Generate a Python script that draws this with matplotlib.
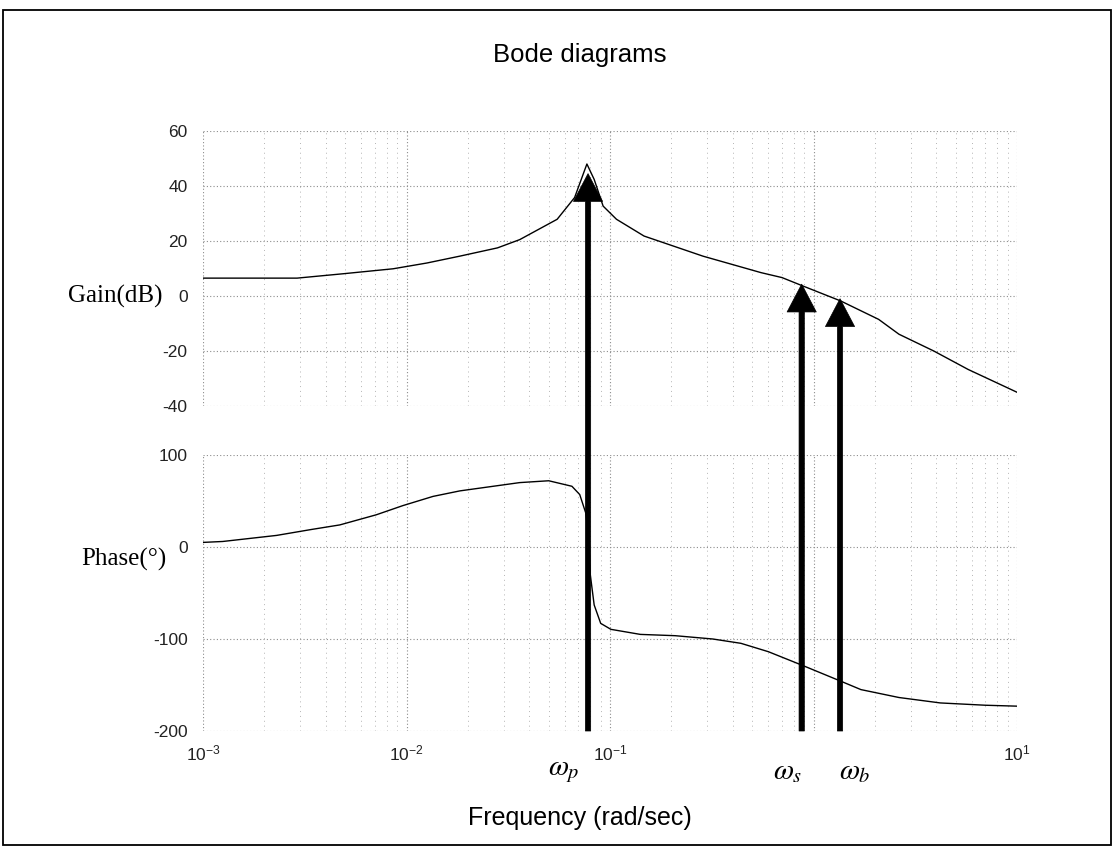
import numpy as np
import matplotlib
matplotlib.use('Agg')
import matplotlib.pyplot as plt
from matplotlib.patches import Rectangle
from matplotlib.ticker import FixedLocator, FixedFormatter, LogLocator, NullFormatter

plt.rcParams['font.family'] = ['Liberation Sans', 'DejaVu Sans']
plt.rcParams['axes.unicode_minus'] = False

# Gain curve (rad/sec, dB)
gain_freq = [0.001, 0.002, 0.0029, 0.0049, 0.0086, 0.0126, 0.0183, 0.028, 0.036, 0.055,
             0.067, 0.077, 0.0836, 0.0925, 0.1076, 0.147, 0.286, 0.552, 0.70,
             0.89, 1.36, 2.09, 2.63, 3.9, 5.75, 10.0]
gain_db = [6.5, 6.5, 6.5, 8.1, 9.9, 12.0, 14.5, 17.5, 20.5, 27.9,
           35.8, 48.0, 42.4, 32.7, 27.9, 21.8, 14.5, 8.5, 6.7,
           3.6, -1.8, -8.5, -13.9, -20.0, -26.7, -35.0]

# Phase curve (rad/sec, degrees)
phase_freq = [0.001, 0.00125, 0.0023, 0.0034, 0.0047, 0.0071, 0.0096, 0.0135, 0.0183,
              0.036, 0.05, 0.065, 0.071, 0.076, 0.079, 0.080, 0.0836, 0.090, 0.101,
              0.141, 0.209, 0.32, 0.44, 0.60, 0.89, 1.36, 1.71, 2.63, 4.2, 7.0, 10.0]
phase_deg = [5, 6, 12.6, 19, 24, 35, 45, 55, 61,
             70, 72, 66, 57, 37, 6.5, -30, -63, -83, -89.5,
             -95, -96.4, -100, -104.7, -113.8, -129, -145.8, -155, -163.6, -169.5, -172, -173]

# Marked frequencies: omega_p, omega_s, omega_b
mark_freq = [0.078, 0.875, 1.35]
mark_tip_db = [44.5, 4.3, -1.0]
mark_labels = [r'$\omega_p$', r'$\omega_s$', r'$\omega_b$']
mark_label_dx = [-24, -14, 15]   # label offset from arrow, pixels

x_ticks = [1e-3, 1e-2, 1e-1, 1e0, 1e1]
x_ticklabels = [r'$\mathregular{10^{-3}}$', r'$\mathregular{10^{-2}}$',
                r'$\mathregular{10^{-1}}$', '', r'$\mathregular{10^{1}}$']
gain_ticks = [60, 40, 20, 0, -20, -40]
phase_ticks = [100, 0, -100, -200]

W, H = 1114, 848
fig = plt.figure(figsize=(W / 100, H / 100), dpi=100)

# axes boxes in pixels: left, right, top, bottom
L, R = 203, 1017
ax_gain = fig.add_axes([L / W, 1 - 406 / H, (R - L) / W, (406 - 131) / H])
ax_phase = fig.add_axes([L / W, 1 - 731 / H, (R - L) / W, (731 - 455) / H])

major_kw = dict(color='#8c8c8c', linestyle=(0, (1, 2)), linewidth=0.8)
minor_kw = dict(color='#b4b4b4', linestyle=(0, (1, 4)), linewidth=0.7)

for ax, ticks in ((ax_gain, gain_ticks), (ax_phase, phase_ticks)):
    ax.set_xscale('log')
    ax.set_xlim(1e-3, 1e1)
    ax.set_ylim(min(ticks), max(ticks))
    ax.set_yticks(ticks)
    ax.xaxis.set_major_locator(FixedLocator(x_ticks))
    ax.xaxis.set_minor_locator(LogLocator(base=10, subs=np.arange(2, 10), numticks=20))
    ax.xaxis.set_minor_formatter(NullFormatter())
    ax.grid(True, which='major', axis='both', **major_kw)
    ax.grid(True, which='minor', axis='x', **minor_kw)
    for s in ax.spines.values():
        s.set_visible(False)
    ax.tick_params(which='both', length=0)
    ax.tick_params(axis='y', pad=11, labelsize=12.5, labelcolor='#222222')
    ax.set_facecolor('none')

ax_gain.xaxis.set_major_formatter(FixedFormatter([''] * len(x_ticks)))
ax_phase.xaxis.set_major_formatter(FixedFormatter(x_ticklabels))
ax_phase.tick_params(axis='x', pad=9, labelsize=12.5, labelcolor='#222222')

ax_gain.plot(gain_freq, gain_db, color='black', lw=1.0)
ax_phase.plot(phase_freq, phase_deg, color='black', lw=1.0)

# side labels
ax_gain.annotate('Gain(dB)', xy=(0, 0), xycoords=ax_gain.get_yaxis_transform(),
                 xytext=(-29.5, 0), textcoords='offset points', ha='right', va='center',
                 family='Liberation Serif', fontsize=18)
ax_phase.annotate('Phase(°)', xy=(0, 0), xycoords=ax_phase.get_yaxis_transform(),
                  xytext=(-26, -9), textcoords='offset points', ha='right', va='center',
                  family='Liberation Serif', fontsize=18)

# arrows from the bottom of the phase plot up to the gain curve
for f, tip, lab, dx in zip(mark_freq, mark_tip_db, mark_labels, mark_label_dx):
    ax_phase.annotate('', xy=(f, tip), xycoords=ax_gain.transData,
                      xytext=(f, -200), textcoords=ax_phase.transData,
                      arrowprops=dict(arrowstyle='simple,head_length=1.0,head_width=1.05,tail_width=0.19',
                                      mutation_scale=20, lw=0.5, color='black',
                                      shrinkA=0, shrinkB=0),
                      annotation_clip=False, zorder=5)
    ax_phase.annotate(lab, xy=(f, 0), xycoords=ax_phase.get_xaxis_transform(),
                      xytext=(dx * 0.72, -29), textcoords='offset points',
                      ha='center', va='center', fontsize=21, math_fontfamily='stix')

fig.text(580 / W, 1 - 55 / H, 'Bode diagrams', ha='center', va='center', fontsize=18.5)
fig.text(580 / W, 1 - 818 / H, 'Frequency (rad/sec)', ha='center', va='center', fontsize=18)

# outer frame
fig.patches.append(Rectangle((3 / W, 3 / H), (1111 - 3) / W, (838 - 3) / H,
                             transform=fig.transFigure, fill=False, lw=1.3, ec='black'))

fig.savefig('out.png', dpi=100, facecolor='white')
